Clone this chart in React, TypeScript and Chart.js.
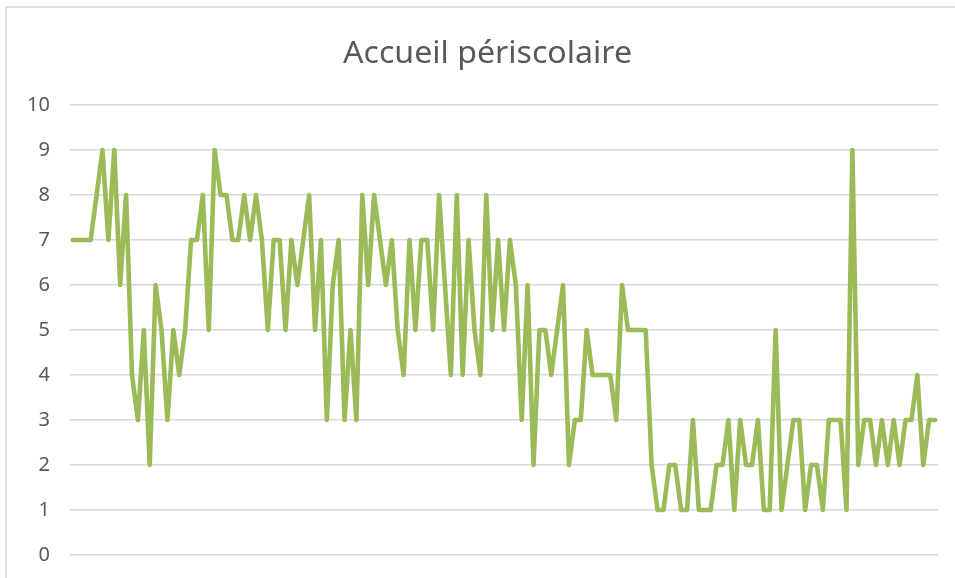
import React, { useEffect, useRef } from "react";
import { Chart, registerables } from "chart.js";

Chart.register(...registerables);

const TITLE = "Accueil périscolaire";
const Y_TICKS = [0, 1, 2, 3, 4, 5, 6, 7, 8, 9, 10];

const VALUES_A = [7, 7, 7, 7, 8, 9, 7, 9, 6, 8, 4, 3, 5, 2, 6, 5, 3, 5, 4, 5, 7, 7, 8, 5, 9, 8, 8, 7, 7];
const VALUES_B = [8, 7, 8, 7, 5, 7, 7, 5, 7, 6, 7, 8, 5, 7, 3, 6, 7, 3, 5, 3, 8, 6, 8, 7, 6, 7, 5, 4, 7, 5];
const VALUES_C = [7, 7, 5, 8, 6, 4, 8, 4, 7, 5, 4, 8, 5, 7, 5, 7, 6, 3, 6, 2, 5, 5, 4, 5, 6, 2, 3, 3, 5, 4];
const VALUES_D = [4, 4, 4, 3, 6, 5, 5, 5, 5, 2, 1, 1, 2, 2, 1, 1, 3, 1, 1, 1, 2, 2, 3, 1, 3, 2, 2, 3, 1, 1];
const VALUES_E = [5, 1, 2, 3, 3, 1, 2, 2, 1, 3, 3, 3, 1, 9, 2, 3, 3, 2, 3, 2, 3, 2, 3, 3, 4, 2, 3, 3];

const VALUES = [...VALUES_A, ...VALUES_B, ...VALUES_C, ...VALUES_D, ...VALUES_E];
const CATEGORIES = VALUES.map((_, i) => String(i + 1));

const frameAndTitlePlugin = {
  id: "excelFrame",
  beforeDraw(chart: any) {
    const ctx = chart.ctx;
    ctx.save();
    ctx.fillStyle = "#ffffff";
    ctx.fillRect(0, 0, chart.width, chart.height);
    ctx.strokeStyle = "#d9d9d9";
    ctx.lineWidth = 1.5;
    ctx.beginPath();
    ctx.moveTo(6, chart.height);
    ctx.lineTo(6, 7);
    ctx.lineTo(chart.width, 7);
    ctx.stroke();
    ctx.restore();
  },
  afterDraw(chart: any) {
    const ctx = chart.ctx;
    ctx.save();
    ctx.font = "30px 'Noto Sans', sans-serif";
    ctx.fillStyle = "#595959";
    ctx.textAlign = "center";
    ctx.textBaseline = "alphabetic";
    const w = ctx.measureText(TITLE).width;
    const sx = 289 / w;
    ctx.translate(487.5, 63);
    ctx.scale(sx, 1);
    ctx.fillText(TITLE, 0, 0);
    ctx.restore();
  },
};

export default function App() {
  const ref = useRef<HTMLCanvasElement>(null);

  useEffect(() => {
    if (!ref.current) return;
    const chart = new Chart(ref.current, {
      type: "line",
      data: {
        labels: CATEGORIES,
        datasets: [
          {
            label: TITLE,
            data: VALUES,
            borderColor: "#9BBB59",
            backgroundColor: "#9BBB59",
            borderWidth: 4.6,
            pointRadius: 0,
            tension: 0,
            borderJoinStyle: "round",
            borderCapStyle: "round",
          },
        ],
      },
      options: {
        responsive: false,
        animation: false,
        layout: { padding: { left: 0, right: 17, top: 105, bottom: 23 } },
        plugins: {
          legend: { display: false },
          tooltip: { enabled: false },
          title: { display: false },
        },
        scales: {
          x: {
            type: "category",
            offset: true,
            display: false,
          },
          y: {
            min: 0,
            max: 10,
            afterFit(scale: any) {
              scale.width = 70;
              scale.paddingTop = 0;
              scale.paddingBottom = 0;
            },
            afterBuildTicks(scale: any) {
              scale.ticks = Y_TICKS.map((v) => ({ value: v }));
            },
            ticks: {
              color: "#595959",
              padding: 20,
              font: { family: "'Noto Sans', sans-serif", size: 20 },
            },
            grid: {
              color: "#d9d9d9",
              lineWidth: 1.5,
              drawTicks: false,
            },
            border: { display: false },
          },
        },
      },
      plugins: [frameAndTitlePlugin],
    });
    return () => chart.destroy();
  }, []);

  return (
    <div style={{ position: "absolute", left: 0, top: 0, width: 955, height: 578 }}>
      <canvas ref={ref} width={955} height={578} />
    </div>
  );
}
